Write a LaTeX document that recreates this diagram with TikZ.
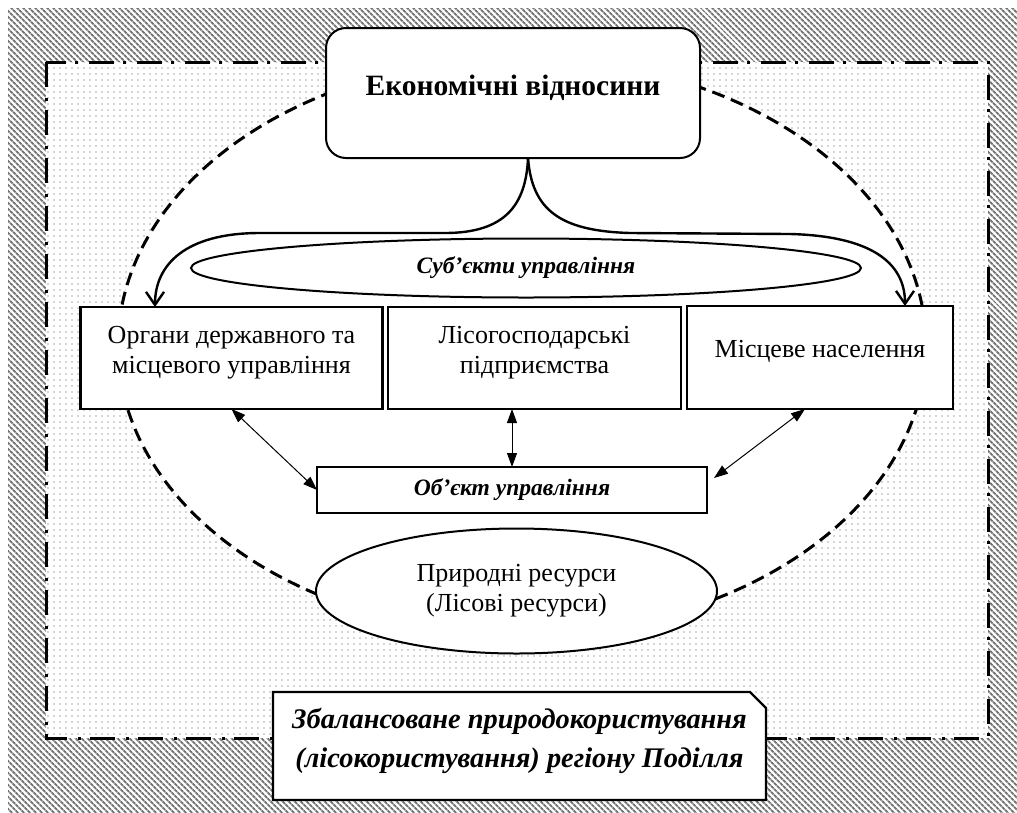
\documentclass[tikz,border=0pt]{standalone}
\usepackage{fontspec}
\setmainfont{Liberation Serif}
\usetikzlibrary{shapes.geometric,arrows.meta,patterns.meta,calc}
\begin{document}
\begin{tikzpicture}[x=1pt,y=-1pt,
  every node/.style={outer sep=0pt,inner sep=0pt},
  frame/.style={draw,line width=2.4pt,fill=white},
  regtext/.style={font=\fontsize{26}{30}\selectfont,align=center},
  bitext/.style={font=\bfseries\itshape\fontsize{23.5}{27}\selectfont},
  bent/.style={line width=2.4pt,-{Straight Barb[length=13pt,width=18pt]}},
  dbl/.style={line width=1pt,{Triangle[length=14pt,width=10pt]}-{Triangle[length=14pt,width=10pt]}}
]
\fill[white] (0,0) rectangle (1017,812);
\useasboundingbox (0,0) rectangle (1017,812);
% hatched background
\fill[pattern={Lines[angle=-45,distance=4pt,line width=2pt]},pattern color=black!55] (8,8) rectangle (1017,812);
% dotted field
\fill[white] (46,62) rectangle (988,738);
\fill[pattern={Dots[distance=6pt,radius=0.7pt]},pattern color=black!70] (46,62) rectangle (988,738);
\draw[line width=3pt,dash pattern=on 25pt off 11pt on 3pt off 9pt] (46,62) rectangle (988,738);
% dashed ellipse
\draw[line width=3pt,dash pattern=on 13pt off 7pt,fill=white] (522,346) ellipse [x radius=404pt,y radius=288pt];

% subjects ellipse
\node[ellipse,draw,line width=2pt,fill=white,minimum width=670pt,minimum height=59pt,bitext] (subj) at (526,268) {Суб’єкти управління};

% three boxes
\node[frame,minimum width=302pt,minimum height=102pt] (org) at (231.5,358) {};
\node[frame,minimum width=293pt,minimum height=102pt] (les) at (534.5,358) {};
\node[frame,minimum width=266pt,minimum height=103pt] (mis) at (820,357.5) {};
\node[regtext] (orgT) at (231.5,353) {Органи державного та\\місцевого управління};
\node[regtext] (lesT) at (534.5,353) {Лісогосподарські\\підприємства};
\node[regtext] (misT) at (820,351) {Місцеве населення};

% object box
\node[draw,line width=2pt,fill=white,minimum width=390pt,minimum height=46pt,bitext] (obj) at (512,490) {Об’єкт управління};

% natural resources ellipse
\node[ellipse,draw,line width=2pt,fill=white,minimum width=401pt,minimum height=125pt,regtext] (nat) at (516.5,591) {Природні ресурси\\(Лісові ресурси)};

% bottom box
\draw[line width=2.4pt,fill=white] (273,692) -- (750,692) -- (766,708) -- (766,800) -- (273,800) -- cycle;
\node[font=\bfseries\itshape\fontsize{28.4}{39}\selectfont,align=center] (goal) at (519.5,740.5) {Збалансоване природокористування\\(лісокористування) регіону Поділля};

% top box
\node[draw,line width=2pt,fill=white,rounded corners=20pt,minimum width=374pt,minimum height=130pt] (eco) at (513,93) {};
\node[font=\bfseries\fontsize{29.5}{34}\selectfont,anchor=base] (ecoT) at (513,95) {Економічні відносини};

% bent arrows
\draw[bent] ([xshift=15pt]eco.south) .. controls (526,205) and (505,233) .. (445,233) -- (260,233) .. controls (185,233) and (155,265) .. ([xshift=-76.5pt]org.north);
\draw[bent] ([xshift=15pt]eco.south) .. controls (532,210) and (560,231) .. (630,233) -- (790,234) .. controls (870,236) and (905,262) .. ([xshift=85pt]mis.north);

% double arrows
\draw[dbl] (org.south) -- (obj.west);
\draw[dbl] (les.south -| obj.north) -- (obj.north);
\draw[dbl] ([xshift=-15pt]mis.south) -- ([shift={(7pt,12pt)}]obj.east);
\end{tikzpicture}
\end{document}
